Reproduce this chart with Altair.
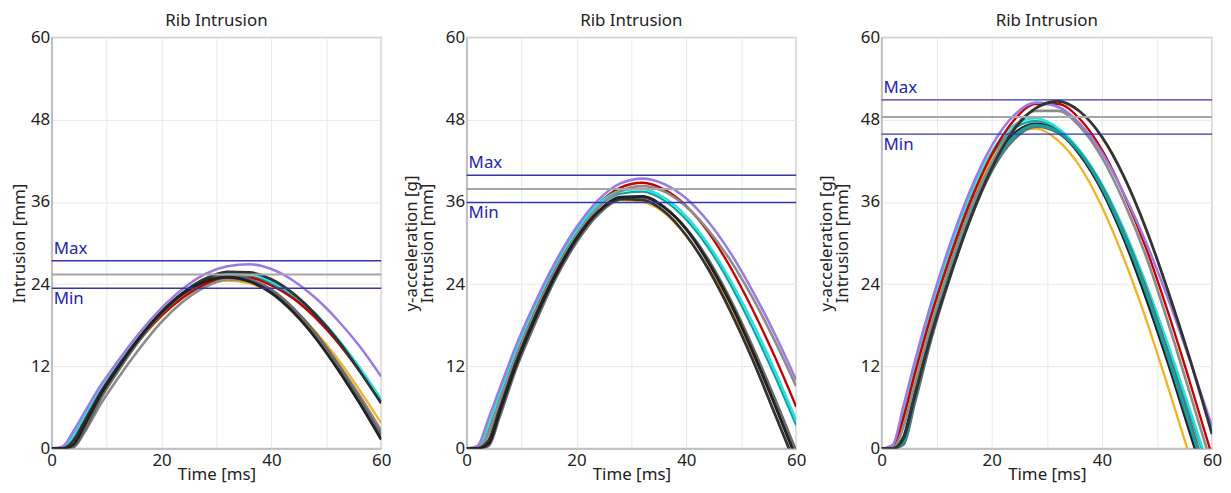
import altair as alt
import pandas as pd

# ---------------- data ----------------
time_ms = [0, 2, 4, 6, 9, 12, 16, 20, 24, 28, 32, 36, 40, 44, 48, 52, 56, 60]

# Panel 1
p1_teal = [0, 0, 1.6, 4.4, 8.4, 11.8, 16.0, 19.6, 22.4, 24.3, 25.2, 25.1, 24.1, 22.1, 19.3, 15.6, 11.4, 6.7]
p1_orange = [0, 0, 1.2, 4.0, 8.1, 11.6, 15.8, 19.3, 22.0, 23.8, 24.5, 24.1, 22.8, 20.4, 17.1, 13.2, 8.6, 3.7]
p1_red = [0, 0, 1.9, 4.6, 8.5, 11.8, 15.9, 19.4, 22.1, 24.0, 24.9, 24.9, 23.8, 21.9, 19.1, 15.6, 11.4, 6.9]
p1_cyan = [0, 0.1, 1.9, 4.7, 8.6, 12.1, 16.3, 19.8, 22.6, 24.5, 25.5, 25.5, 24.4, 22.5, 19.7, 16.1, 11.9, 7.2]
p1_purple = [0, 0.3, 2.6, 5.3, 9.3, 12.7, 16.9, 20.5, 23.4, 25.5, 26.6, 26.9, 26.2, 24.5, 22.0, 18.8, 15.0, 10.5]
p1_gray_a = [0, 0, 0.3, 2.4, 6.6, 10.2, 14.6, 18.5, 21.5, 23.6, 24.7, 24.4, 22.8, 20.3, 16.8, 12.6, 7.8, 2.6]
p1_gray_b = [0, 0, 0.2, 2.6, 7.4, 11.2, 15.8, 19.7, 22.6, 24.5, 25.2, 24.7, 23.2, 20.5, 16.9, 12.4, 7.4, 2.0]
p1_black_a = [0, 0, 1.2, 4.0, 8.3, 11.9, 16.2, 19.9, 22.8, 24.8, 25.8, 25.7, 24.7, 22.6, 19.6, 15.9, 11.4, 6.6]
p1_black_b = [0, 0, 0.6, 3.4, 8.0, 11.7, 16.2, 19.9, 22.7, 24.4, 25.0, 24.4, 22.7, 19.9, 16.2, 11.7, 6.7, 1.3]
p1_limits = [27.4, 25.4, 23.4]  # max, reference, min

# Panel 2
p2_teal = [0, 0, 3.0, 7.4, 13.8, 19.4, 26.1, 31.4, 35.3, 37.2, 37.5, 36.2, 33.4, 29.3, 24.0, 17.7, 10.8, 3.4]
p2_orange = [0, 0, 2.3, 6.9, 13.5, 19.1, 25.7, 31.0, 34.6, 36.3, 36.0, 34.4, 31.0, 26.4, 20.8, 14.0, 6.8, -0.5]
p2_red = [0, 0, 3.3, 7.8, 14.1, 19.7, 26.3, 31.7, 35.7, 38.1, 38.8, 37.8, 35.4, 31.6, 26.5, 20.4, 13.6, 6.1]
p2_cyan = [0, 0, 3.4, 7.9, 14.3, 19.9, 26.5, 31.8, 35.7, 37.6, 37.9, 36.6, 33.9, 29.8, 24.6, 18.5, 11.6, 4.1]
p2_purple = [0, 0.4, 4.4, 8.7, 15.0, 20.5, 27.0, 32.3, 36.3, 38.7, 39.4, 38.6, 36.5, 33.1, 28.6, 23.1, 16.9, 10.0]
p2_gray_a = [0, 0, 2.2, 6.7, 13.2, 18.8, 25.6, 31.1, 35.2, 37.6, 38.3, 37.5, 35.3, 31.9, 27.5, 22.1, 15.9, 9.1]
p2_gray_b = [0, 0, 0.4, 4.6, 11.6, 17.4, 24.5, 30.1, 34.2, 36.4, 36.7, 35.2, 32.1, 27.6, 21.8, 15.0, 7.5, -0.4]
p2_black_a = [0, 0, 1.2, 5.7, 12.6, 18.4, 25.2, 30.7, 34.6, 36.4, 36.3, 34.6, 31.1, 26.2, 20.1, 13.1, 5.3, -2.6]
p2_black_b = [0, 0, 0.7, 5.3, 12.2, 18.1, 25.0, 30.6, 34.6, 36.7, 36.8, 35.2, 32.0, 27.2, 21.3, 14.3, 6.6, -1.4]
p2_limits = [39.9, 37.9, 35.9]

# Panel 3
p3_teal = [0, 0, 4.0, 10.4, 19.4, 27.2, 36.0, 42.6, 46.7, 47.8, 46.5, 43.2, 38.2, 31.6, 23.6, 14.6, 5.0, -4.5]
p3_orange = [0, 0, 3.4, 9.9, 19.0, 26.8, 35.6, 42.2, 45.9, 46.7, 45.0, 41.2, 35.3, 27.7, 18.9, 9.0, -1.3, -11.5]
p3_red = [0, 0, 4.6, 10.8, 19.4, 26.9, 35.8, 42.9, 47.9, 50.3, 50.3, 48.1, 43.6, 37.1, 29.3, 19.9, 9.6, -1.1]
p3_cyan = [0, 0, 5.0, 11.4, 20.3, 28.1, 36.8, 43.3, 47.2, 48.2, 46.8, 43.5, 38.6, 32.0, 24.1, 15.2, 5.6, -4.2]
p3_purple = [0, 0.5, 6.3, 12.6, 21.2, 28.8, 37.5, 44.2, 48.6, 50.5, 49.9, 47.4, 43.2, 37.2, 30.1, 21.9, 12.8, 3.2]
p3_gray_a = [0, 0, 3.2, 9.2, 18.0, 25.6, 34.6, 41.7, 46.8, 49.3, 49.3, 47.0, 42.5, 36.0, 28.1, 18.4, 8.0, -2.6]
p3_gray_b = [0, 0, 0.6, 6.5, 15.9, 23.9, 33.2, 40.5, 45.1, 47.0, 46.1, 43.2, 38.3, 31.5, 23.4, 14.0, 4.0, -6.4]
p3_black_a = [0, 0, 1.5, 7.5, 16.5, 24.1, 33.3, 40.9, 46.5, 49.7, 50.7, 49.2, 45.5, 39.7, 32.1, 23.0, 13.0, 2.1]
p3_black_b = [0, 0, 1.7, 8.1, 17.4, 25.4, 34.6, 41.5, 45.9, 47.4, 46.3, 42.9, 37.7, 30.6, 22.0, 12.5, 2.3, -7.9]
p3_black_c = [0, 0, 1.0, 7.2, 16.6, 24.5, 33.8, 40.9, 45.5, 47.2, 46.3, 43.2, 38.1, 31.2, 22.9, 13.4, 3.3, -7.0]
p3_limits = [50.9, 48.4, 45.9]

panel_titles = ["Rib Intrusion", "Rib Intrusion", "Rib Intrusion"]
y_titles = [["Intrusion [mm]"],
            ["y-acceleration [g]", "Intrusion [mm]"],
            ["y-acceleration [g]", "Intrusion [mm]"]]
x_title = "Time [ms]"
y_ticks = [0, 12, 24, 36, 48, 60]
x_ticks = [0, 10, 20, 30, 40, 50, 60]

# ---------------- styles ----------------
series_style = {
    "teal": ("#17A0A0", 2.2),
    "orange": ("#F4B121", 3.0),
    "red": ("#C80000", 2.8),
    "cyan": ("#22E2E2", 3.6),
    "purple": ("#9A7BE4", 3.0),
    "gray_a": ("#8C8C8C", 1.1),
    "gray_b": ("#6A6A6A", 1.0),
    "black_a": ("#333333", 0.9),
    "black_b": ("#222222", 0.9),
    "black_c": ("#3A3A3A", 0.9),
}

FONT = "Noto Sans"
FS = 17
TXT = "#222222"
PLOT_H = 414


def make_panel(curves, limits, title, ytitle, width, y_title_pad):
    rows = []
    for name, vals in curves:
        for t, v in zip(time_ms, vals):
            rows.append({"s": name, "t": t, "v": v})
    df = pd.DataFrame(rows)
    names = [n for n, _ in curves]
    colors = [series_style[n][0] for n in names]
    widths = [series_style[n][1] for n in names]

    x_enc = alt.X("t:Q", title=x_title,
                  scale=alt.Scale(domain=[0, 60], nice=False, zero=False),
                  axis=alt.Axis(values=x_ticks,
                                labelExpr="datum.value % 20 == 0 ? datum.label : ''",
                                labelFlush=False, labelOverlap=False))
    y_enc = alt.Y("v:Q", title=ytitle,
                  scale=alt.Scale(domain=[0, 60], nice=False),
                  axis=alt.Axis(values=y_ticks, labelFlush=False, labelOverlap=False,
                                titlePadding=y_title_pad))

    lines = alt.Chart(df).mark_line(clip=True, interpolate="monotone").encode(
        x=x_enc, y=y_enc,
        color=alt.Color("s:N", scale=alt.Scale(domain=names, range=colors), legend=None),
        strokeWidth=alt.StrokeWidth("s:N", scale=alt.Scale(domain=names, range=widths), legend=None),
    )

    lim_df = pd.DataFrame({"kind": ["Max", "Ref", "Min"], "y": limits})
    blue_rules = alt.Chart(lim_df[lim_df.kind != "Ref"]).mark_rule(
        color="#3535B0", strokeWidth=1.5).encode(y="y:Q")
    gray_rule = alt.Chart(lim_df[lim_df.kind == "Ref"]).mark_rule(
        color="#A6A6A6", strokeWidth=2).encode(y="y:Q")
    max_text = alt.Chart(lim_df[lim_df.kind == "Max"]).mark_text(
        align="left", baseline="bottom", dx=2, dy=-3, font=FONT, fontSize=FS,
        color="#2424B4").encode(y="y:Q", x=alt.value(0), text="kind:N")
    min_text = alt.Chart(lim_df[lim_df.kind == "Min"]).mark_text(
        align="left", baseline="top", dx=2, dy=3, font=FONT, fontSize=FS,
        color="#2424B4").encode(y="y:Q", x=alt.value(0), text="kind:N")

    title_df = pd.DataFrame({"title": [title]})
    title_text = alt.Chart(title_df).mark_text(
        align="center", baseline="alphabetic", font=FONT, fontSize=FS, color=TXT
    ).encode(x=alt.value(width / 2), y=alt.value(-12), text="title:N")

    return alt.layer(lines, gray_rule, blue_rules, max_text, min_text,
                     title_text).properties(width=width, height=PLOT_H)


p1 = make_panel([("teal", p1_teal), ("orange", p1_orange), ("red", p1_red),
                 ("cyan", p1_cyan), ("purple", p1_purple), ("gray_a", p1_gray_a),
                 ("gray_b", p1_gray_b), ("black_a", p1_black_a), ("black_b", p1_black_b)],
                p1_limits, panel_titles[0], y_titles[0], 332, 2)
p2 = make_panel([("teal", p2_teal), ("orange", p2_orange), ("red", p2_red),
                 ("cyan", p2_cyan), ("purple", p2_purple), ("gray_a", p2_gray_a),
                 ("gray_b", p2_gray_b), ("black_a", p2_black_a), ("black_b", p2_black_b)],
                p2_limits, panel_titles[1], y_titles[1], 332, 9)
p3 = make_panel([("teal", p3_teal), ("orange", p3_orange), ("cyan", p3_cyan),
                 ("gray_b", p3_gray_b), ("black_b", p3_black_b), ("black_c", p3_black_c),
                 ("red", p3_red), ("purple", p3_purple), ("gray_a", p3_gray_a),
                 ("black_a", p3_black_a)],
                p3_limits, panel_titles[2], y_titles[2], 333, 9)

chart = alt.hconcat(p1, p2, p3, spacing=9).properties(
    padding={"left": 1, "top": 1, "right": 0, "bottom": 0}
).configure_view(
    stroke="#C4C4C4", strokeWidth=1.5
).configure_axis(
    labelFont=FONT, titleFont=FONT, labelFontSize=FS, titleFontSize=FS,
    labelColor=TXT, titleColor=TXT, titleFontWeight="normal",
    ticks=False, tickSize=0, domainColor="#B8B8B8", domainWidth=1.5,
    gridColor="#E8E8E8", gridWidth=1, labelPadding=2, titlePadding=2,
    titleLineHeight=16,
).configure_axisX(labelPadding=4, titlePadding=-2)

chart.save("out.html", embed_options={"renderer": "svg", "actions": False})
